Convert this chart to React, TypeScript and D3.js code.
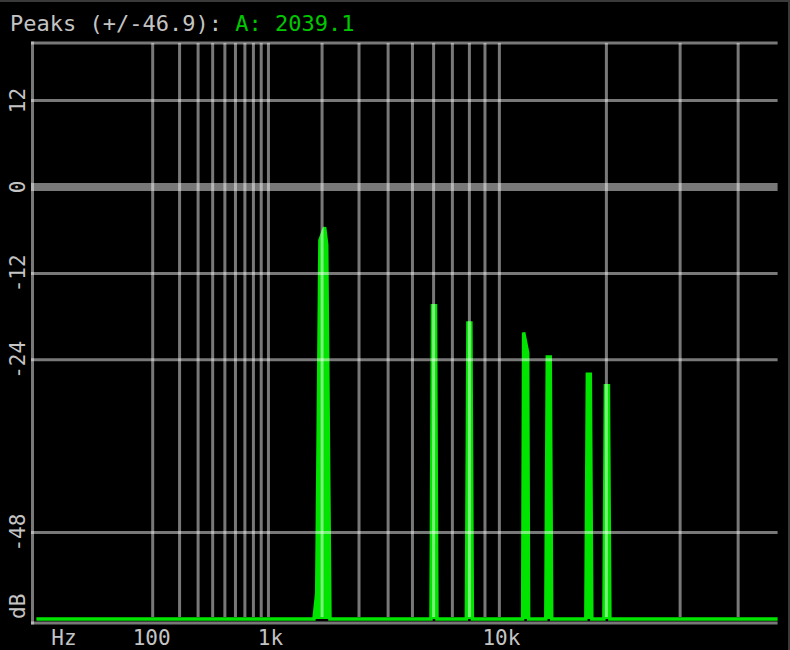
import * as d3 from "d3";

// grid lines (Hz) and dB rows
const gridHz = [100, 200, 300, 400, 500, 600, 700, 800, 900, 1000,
  2000, 3000, 4000, 5000, 6000, 7000, 8000, 9000, 10000, 20000, 30000, 40000];
const gridDb = [20, 12, -12, -24, -48];
const dbLabels = [12, 0, -12, -24, -48];
const hzLabels = [100, 1000, 10000];
const hzLabelText = ["100", "1k", "10k"];

// spectrum (Hz, dB)
const spectrumHz = [0, 1817, 1877, 1950, 2060, 2110, 2190,
  5870, 5945, 6095, 6170,
  7815, 7910, 8090, 8185,
  11775, 11855, 12185, 12265,
  13750, 13885, 14155, 14290,
  17695, 17860, 18180, 18345,
  19710, 19885, 20235, 20410, 48000];
const spectrumDb = [-60, -60, -56.4, -7.4, -5.6, -8, -60,
  -60, -16.5, -16.5, -60,
  -60, -18.9, -18.9, -60,
  -60, -20.2, -23, -60,
  -60, -23.6, -23.6, -60,
  -60, -26, -26, -60,
  -60, -27.6, -27.6, -60, -60];

const peakRange = 46.9;
const peakFreq = 2039.1;

const W = 790;
const H = 650;
const font = "'DejaVu Sans Mono', monospace";
const gridColor = "rgba(255,255,255,0.47)";
const textColor = "#c4c4c4";
const green = "#00e400";

export default function App() {
  const x = d3.scalePow().exponent(0.3).domain([0, 48000]).range([36.4, 777.6]);
  const y = d3.scaleLinear().domain([-60, 20]).range([619, 43]);

  const pts = spectrumHz.map((f, i) => [f, spectrumDb[i]] as [number, number]);
  const line = d3.line<[number, number]>()
    .x(d => x(d[0]))
    .y(d => y(d[1]));

  return (
    <svg width={W} height={H} style={{ position: "absolute", left: 0, top: 0, background: "#000" }}>
      <rect width={W} height={H} fill="#000" />
      {/* frame */}
      <line x1={0} x2={W} y1={1} y2={1} stroke="#3a3a3a" strokeWidth={2} />
      <line x1={W - 1} x2={W - 1} y1={0} y2={H} stroke="#3a3a3a" strokeWidth={2} />

      {/* spectrum */}
      <path d={line(pts) || ""} fill={green} stroke={green} strokeWidth={3.5} strokeLinejoin="miter" />

      {/* grid */}
      {gridHz.map(f => (
        <line key={"v" + f} x1={x(f)} x2={x(f)} y1={y(20)} y2={617} stroke={gridColor} strokeWidth={3} />
      ))}
      {gridDb.map(d => (
        <line key={"h" + d} x1={31} x2={x(48000)} y1={y(d)} y2={y(d)} stroke={gridColor} strokeWidth={3} />
      ))}
      <line x1={31} x2={x(48000)} y1={y(0)} y2={y(0)} stroke={gridColor} strokeWidth={8} />
      <line x1={32.5} x2={32.5} y1={41.5} y2={624.5} stroke={gridColor} strokeWidth={3} />
      <line x1={31} x2={x(48000)} y1={623} y2={623} stroke={gridColor} strokeWidth={3} />

      {/* y labels */}
      {dbLabels.map(d => (
        <text key={"l" + d} transform={`translate(25,${y(d)}) rotate(-90)`} textAnchor="middle"
          fontFamily={font} fontSize={21} fill={textColor}>{d}</text>
      ))}
      <text transform={`translate(25,619) rotate(-90)`} textAnchor="start"
        fontFamily={font} fontSize={21} fill={textColor}>dB</text>

      {/* x labels */}
      <text x={64} y={645} textAnchor="middle" fontFamily={font} fontSize={21} fill={textColor}>Hz</text>
      {hzLabels.map((f, i) => (
        <text key={"x" + f} x={x(f) + (i === 0 ? -1 : 2)} y={645} textAnchor="middle"
          fontFamily={font} fontSize={21} fill={textColor}>{hzLabelText[i]}</text>
      ))}

      {/* title */}
      <text x={10} y={31} fontFamily={font} fontSize={22} fill={textColor}>
        {`Peaks (+/-${peakRange}): `}
        <tspan fill="#00c800">{`A: ${peakFreq}`}</tspan>
      </text>
    </svg>
  );
}
